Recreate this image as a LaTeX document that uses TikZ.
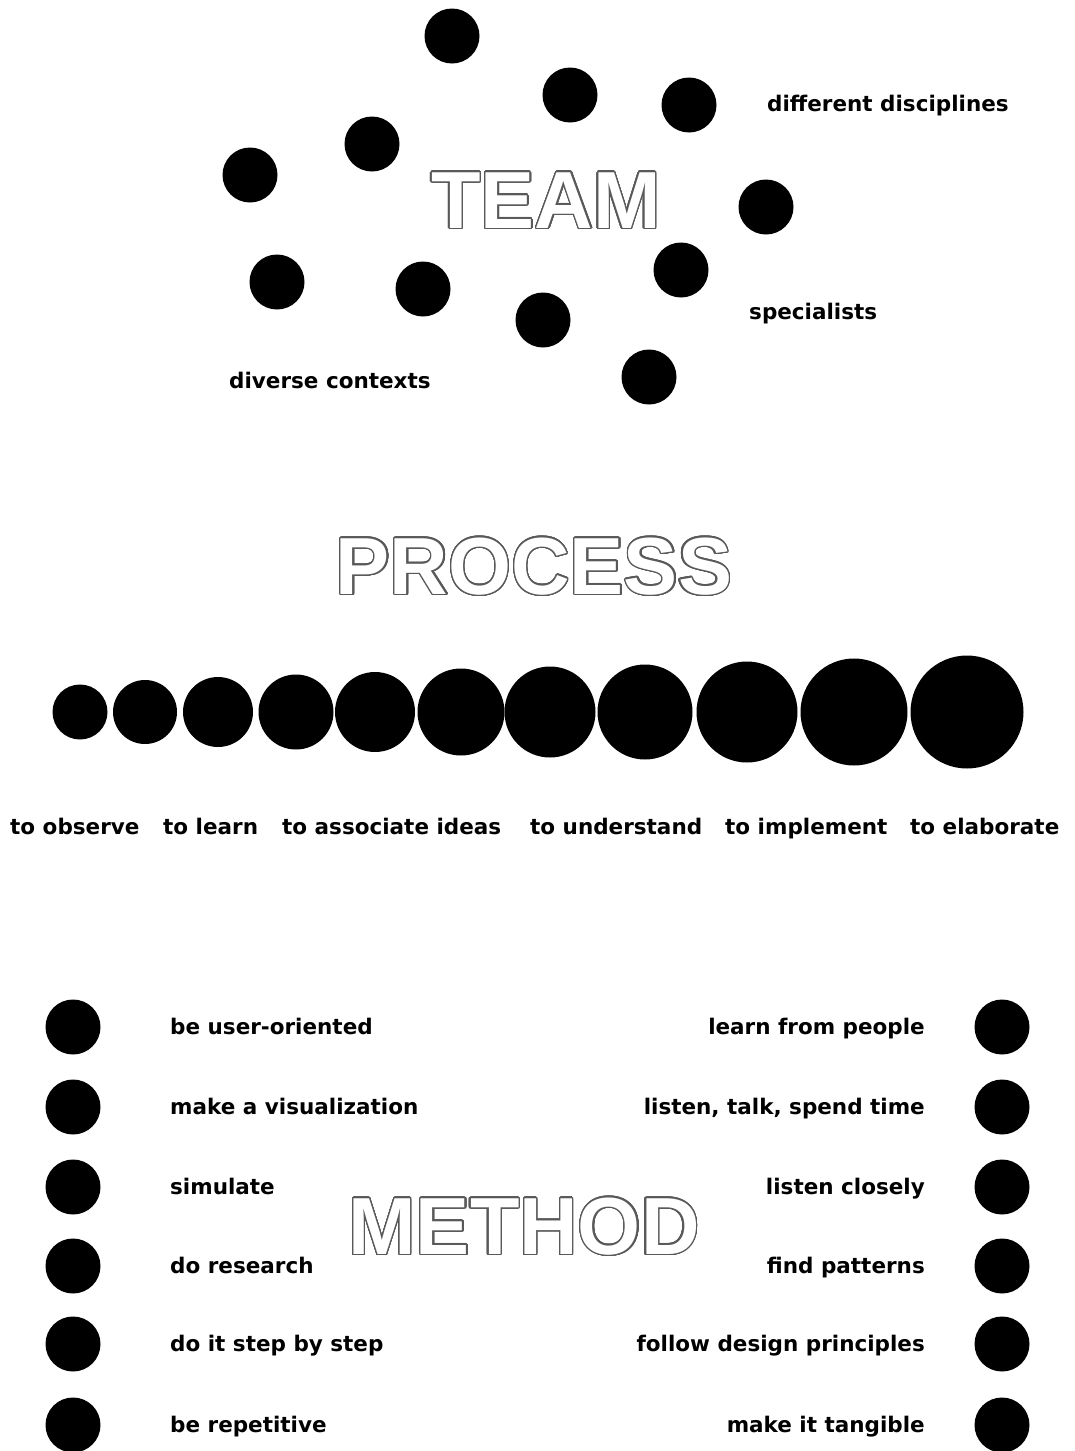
\documentclass[tikz,border=0pt]{standalone}
\usepackage{fontspec}
\setmainfont{DejaVu Sans}
\newfontfamily\titlefont{Liberation Sans}
\usepackage{contour}
\contourlength{1.3pt}
\contournumber{40}
\usetikzlibrary{positioning}

\definecolor{rim}{gray}{0.35}
\newcommand{\outlined}[1]{\contour{rim}{\textcolor{white}{#1}}}

\tikzset{
	dot/.style={circle, fill=black, inner sep=0pt, minimum size=55pt},
	lbl/.style={inner sep=0pt, yshift=-5pt, font=\bfseries\fontsize{21.5}{25}\selectfont},
	heading/.style={inner sep=0pt, font=\titlefont\bfseries\fontsize{81}{90}\selectfont}
}

\begin{document}
\begin{tikzpicture}[x=1pt, y=-1pt]
	\useasboundingbox (0,0) rectangle (1074,1451);

	% team
	\node[heading] (team) at (546,201) {\outlined{TEAM}};
	\node[dot] (t1) at (452,36) {};
	\node[dot] (t2) at (570,95) {};
	\node[dot] (t3) at (689,105) {};
	\node[dot] (t4) at (372,144) {};
	\node[dot] (t5) at (250,175) {};
	\node[dot] (t6) at (766,207) {};
	\node[dot] (t7) at (277,282) {};
	\node[dot] (t8) at (423,289) {};
	\node[dot] (t9) at (681,270) {};
	\node[dot] (t10) at (543,320) {};
	\node[dot] (t11) at (649,377) {};
	\node[lbl, anchor=mid west] (disciplines) at (767,104) {different disciplines};
	\node[lbl, anchor=mid west] (specialists) at (749,312) {specialists};
	\node[lbl, anchor=mid west] (contexts) at (229,381) {diverse contexts};

	% process
	\node[heading] (process) at (534,567) {\outlined{PROCESS}};
	\foreach \x/\d [count=\i] in {80/55, 145/64, 218/70, 296/75, 375/80, 461/87,
		550/91, 645/95, 747/101, 854/107, 967/113}
		\node[dot, minimum size=\d pt] (p\i) at (\x,712) {};
	\node[lbl, anchor=mid west] (observe) at (10,827) {to observe};
	\node[lbl, anchor=mid west] (learn) at (163,827) {to learn};
	\node[lbl, anchor=mid west] (associate) at (282,827) {to associate ideas};
	\node[lbl, anchor=mid west] (understand) at (530,827) {to understand};
	\node[lbl, anchor=mid west] (implement) at (725,827) {to implement};
	\node[lbl, anchor=mid west] (elaborate) at (910,827) {to elaborate};

	% method
	\node[heading] (method) at (524,1227) {\outlined{METHOD}};
	\foreach \y/\a/\b [count=\i] in {
		1027/be user-oriented/learn from people,
		1107/make a visualization/{listen, talk, spend time},
		1187/simulate/listen closely,
		1266/do research/find patterns,
		1344/do it step by step/follow design principles,
		1425/be repetitive/make it tangible}
	{
		\node[dot] (ml\i) at (73,\y) {};
		\node[dot] (mr\i) at (1002,\y) {};
		\node[lbl, anchor=mid west] (al\i) at (170,\y) {\a};
		\node[lbl, anchor=mid east] (ar\i) at (925,\y) {\b};
	}
\end{tikzpicture}
\end{document}
